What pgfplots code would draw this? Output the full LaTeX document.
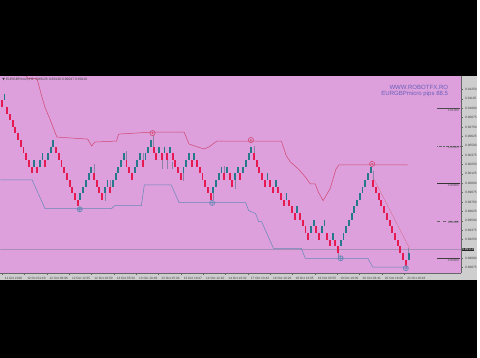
\documentclass[border=0pt]{standalone}
\usepackage{fontspec}
\setmainfont{Liberation Sans}
\newfontfamily\symfont{DejaVu Sans}
\usepackage{pgfplots}
\usepackage{pgfplotstable}
\pgfplotsset{compat=1.18}

\definecolor{bg}{RGB}{221,160,221}
\definecolor{brickred}{RGB}{230,25,80}
\definecolor{brickteal}{RGB}{40,120,140}
\definecolor{upline}{RGB}{210,70,110}
\definecolor{lowline}{RGB}{100,135,180}
\definecolor{scalegray}{RGB}{206,206,206}
\definecolor{txtblue}{RGB}{105,95,185}
\definecolor{wick}{RGB}{140,130,165}
\definecolor{bidline}{RGB}{170,140,180}

% down (red) bricks: index, mid price
\pgfplotstableread{
i p
0 0.91062
2 0.90974
3 0.90885
4 0.90797
5 0.90708
6 0.90620
7 0.90531
8 0.90443
9 0.90354
10 0.90266
11 0.90177
13 0.90177
16 0.90266
20 0.90443
21 0.90354
22 0.90266
23 0.90177
24 0.90089
25 0.90000
26 0.89912
27 0.89823
28 0.89735
34 0.90089
35 0.90000
36 0.89912
37 0.89823
40 0.89912
46 0.90266
47 0.90177
48 0.90089
52 0.90266
56 0.90443
57 0.90354
59 0.90354
61 0.90354
63 0.90354
64 0.90266
65 0.90177
66 0.90089
70 0.90266
72 0.90266
73 0.90177
74 0.90089
75 0.90000
76 0.89912
77 0.89823
82 0.90089
84 0.90089
85 0.90000
88 0.90089
93 0.90354
94 0.90266
95 0.90177
96 0.90089
97 0.90000
99 0.90000
100 0.89912
102 0.89912
103 0.89823
104 0.89735
106 0.89735
107 0.89646
108 0.89558
110 0.89558
111 0.89469
112 0.89381
113 0.89292
116 0.89381
117 0.89292
120 0.89292
121 0.89204
123 0.89204
124 0.89115
137 0.90000
138 0.89912
139 0.89823
140 0.89735
141 0.89646
142 0.89558
143 0.89469
144 0.89381
145 0.89292
146 0.89204
147 0.89115
148 0.89027
149 0.88938
}\downbricks

% up (teal) bricks: index, mid price
\pgfplotstableread{
i p
1 0.91151
12 0.90266
14 0.90266
15 0.90354
17 0.90354
18 0.90443
19 0.90531
29 0.89823
30 0.89912
31 0.90000
32 0.90089
33 0.90177
38 0.89912
39 0.90000
41 0.90000
42 0.90089
43 0.90177
44 0.90266
45 0.90354
49 0.90177
50 0.90266
51 0.90354
53 0.90354
54 0.90443
55 0.90531
58 0.90443
60 0.90443
62 0.90443
67 0.90177
68 0.90266
69 0.90354
71 0.90354
78 0.89912
79 0.90000
80 0.90089
81 0.90177
83 0.90177
86 0.90089
87 0.90177
89 0.90177
90 0.90266
91 0.90354
92 0.90443
98 0.90089
101 0.90000
105 0.89823
109 0.89646
114 0.89381
115 0.89469
118 0.89381
119 0.89469
122 0.89292
125 0.89204
126 0.89292
127 0.89381
128 0.89469
129 0.89558
130 0.89646
131 0.89735
132 0.89823
133 0.89912
134 0.90000
135 0.90089
136 0.90177
150 0.89027
}\upbricks

% wicks: index, low end, length
\pgfplotstableread{
i lo len
34 0.90133 0.0012
38 0.89768 0.0010
40 0.89956 0.0009
46 0.90310 0.0012
52 0.90310 0.0009
56 0.90487 0.0014
59 0.90190 0.0012
61 0.90190 0.0012
63 0.90190 0.0010
67 0.90033 0.0010
78 0.89778 0.0009
82 0.90133 0.0010
86 0.89925 0.0012
93 0.90399 0.0010
124 0.88991 0.0008
137 0.90045 0.0012
150 0.89071 0.0006
149 0.88854 0.0004
}\wicks

\begin{document}
\begin{tikzpicture}[x=1pt,y=1pt]
\fill[black] (0,0) rectangle (480,360);
\fill[scalegray] (0,78) rectangle (480,283);
\begin{axis}[
  at={(0pt,85pt)}, anchor=south west,
  scale only axis, width=464pt, height=198pt,
  xmin=-0.549, xmax=169.41, ymin=0.888013, ymax=0.914238,
  axis background/.style={fill=bg},
  axis x line*=bottom, axis y line*=right,
  axis line style={black!60, line width=0.6pt, -},
  tick align=outside, major tick length=1.5pt,
  tick style={black!60, line width=0.3pt},
  ytick={0.88875,0.89,0.8925,0.89375,0.895,0.89625,0.8975,0.89875,0.9,0.90125,0.9025,0.90375,0.905,0.90625,0.9075,0.90875,0.91,0.91125,0.9125},
  yticklabels={0.88875,0.89000,0.89250,0.89375,0.89500,0.89625,0.89750,0.89875,0.90000,0.90125,0.90250,0.90375,0.90500,0.90625,0.90750,0.90875,0.91000,0.91125,0.91250},
  yticklabel style={font=\fontsize{3.2}{3.5}\selectfont, text=black!75, xshift=-1pt},
  xtick={0.07,8.31,16.56,24.80,33.04,41.28,49.52,57.77,66.01,74.25,82.49,90.73,98.97,107.22,115.46,123.70,131.94,140.18,148.42},
  xticklabels={11 Oct 2016,12 Oct 01:40,12 Oct 06:06,12 Oct 12:35,12 Oct 19:50,13 Oct 05:34,13 Oct 10:46,13 Oct 15:04,13 Oct 19:47,14 Oct 12:10,14 Oct 16:32,17 Oct 13:42,18 Oct 10:20,18 Oct 13:05,19 Oct 03:55,19 Oct 16:30,20 Oct 03:41,20 Oct 16:00,21 Oct 10:43},
  xticklabel style={font=\fontsize{3.2}{3.5}\selectfont, text=black!75, anchor=north west, xshift=-0.5pt, yshift=0.8pt},
  clip mode=individual,
]
% bid line
\addplot[bidline, line width=0.4pt] coordinates {(-0.549,0.891192)(169.41,0.891192)};
% upper channel line
\addplot[upline, line width=0.5pt] coordinates {
(6.78,0.91517)(9.71,0.913974)(13.0,0.913974)(13.37,0.913444)(14.84,0.911457)(15.93,0.910132)
(17.77,0.908543)(19.60,0.906821)(20.33,0.906159)(31.68,0.905894)(33.15,0.904967)(34.25,0.905497)
(42.31,0.905629)(43.04,0.906556)(55.49,0.906821)(67.22,0.906821)(69.05,0.905232)(74.54,0.904570)
(76.37,0.904834)(79.30,0.905629)(103.11,0.905629)(104.95,0.903642)(106.41,0.902848)(109.34,0.901920)
(111.90,0.900861)(113.74,0.899934)(115.57,0.899934)(116.67,0.898874)(118.50,0.897682)(121.06,0.899272)
(123.26,0.901920)(124.36,0.902450)(149.63,0.902450)};
% lower channel line
\addplot[lowline, line width=0.5pt] coordinates {
(-0.55,0.900463)(11.17,0.900463)(15.93,0.896623)(40.48,0.896623)(41.58,0.897020)(51.47,0.897020)
(52.56,0.899801)(62.45,0.899801)(65.38,0.897417)(89.93,0.897417)(91.03,0.896358)(93.59,0.895960)
(94.69,0.894901)(95.79,0.894901)(100.18,0.891324)(110.44,0.891324)(111.90,0.890000)(134.98,0.890000)
(136.81,0.888808)(149.63,0.888808)};
% trend line from last peak
\addplot[upline!85, line width=0.3pt] coordinates {(136.8,0.900861)(150.37,0.891324)};
% wicks
\addplot[quiver={u=0, v=\thisrow{len}}, -, mark=none, wick, line width=0.4pt] table[x=i, y=lo] {\wicks};
% bricks (each drawn as a thick segment, half up and half down from its mid price)
\addplot[quiver={u=0, v=0.0004425}, -, mark=none, brickred, line width=1.9pt] table[x=i, y=p] {\downbricks};
\addplot[quiver={u=0, v=-0.0004425}, -, mark=none, brickred, line width=1.9pt] table[x=i, y=p] {\downbricks};
\addplot[quiver={u=0, v=0.0004425}, -, mark=none, brickteal, line width=1.9pt] table[x=i, y=p] {\upbricks};
\addplot[quiver={u=0, v=-0.0004425}, -, mark=none, brickteal, line width=1.9pt] table[x=i, y=p] {\upbricks};
% swing markers
\addplot[only marks, mark=o, mark size=2.6pt, mark options={upline, line width=0.6pt}] coordinates {(55.6,0.906689)(91.87,0.905762)(136.56,0.902583)};
\addplot[only marks, mark=*, mark size=0.6pt, mark options={upline}] coordinates {(55.6,0.906689)(91.87,0.905762)(136.56,0.902583)};
\addplot[only marks, mark=oplus, mark size=2.6pt, mark options={lowline, line width=0.6pt}] coordinates {(28.75,0.896530)(77.58,0.897378)(124.98,0.890000)(149.0,0.888676)};
% level lines
\addplot[black!70, line width=0.4pt] coordinates {(160.6,0.91)(169.0,0.91)};
\addplot[black!60, line width=0.4pt, densely dotted] coordinates {(160.6,0.905)(169.0,0.905)};
\addplot[black!80, line width=0.8pt] coordinates {(160.6,0.9)(169.0,0.9)};
\addplot[black!60, line width=0.4pt, dashed] coordinates {(160.6,0.895)(169.0,0.895)};
\addplot[black!75, line width=0.6pt] coordinates {(160.6,0.89)(169.0,0.89)};
\foreach \lv/\lt in {0.91/0.91000,0.905/0.90500,0.9/0.90000,0.895/0.89500,0.89/0.89000}{
  \edef\tmp{\noexpand\node[anchor=north east, font=\noexpand\fontsize{3}{3.4}\noexpand\selectfont, text=black!70, inner sep=0.6pt] at (axis cs:168.8,\lv) {\lt};}
  \tmp
}
\end{axis}
% legend line top-left
\node[anchor=west, inner sep=0pt, font=\fontsize{3.4}{4}\selectfont, text=black!75] at (2,280) {{\symfont ▼} EURGBPmicro,H2 \ 0.89125 0.89130 0.89047 0.89119};
% watermark
\node[anchor=east, inner sep=0pt, font=\fontsize{6.1}{7}\selectfont, text=txtblue] at (451,272.5) {WWW.ROBOTFX.RO};
\node[anchor=east, inner sep=0pt, font=\fontsize{6.1}{7}\selectfont, text=txtblue] at (451,265.3) {EURGBPmicro pips 88.5};
% bid price box on scale
\node[anchor=west, fill=black!85, text=white, inner sep=0.6pt, font=\fontsize{3.2}{3.5}\selectfont] at (464.3,109) {0.89119};
\end{tikzpicture}
\end{document}
